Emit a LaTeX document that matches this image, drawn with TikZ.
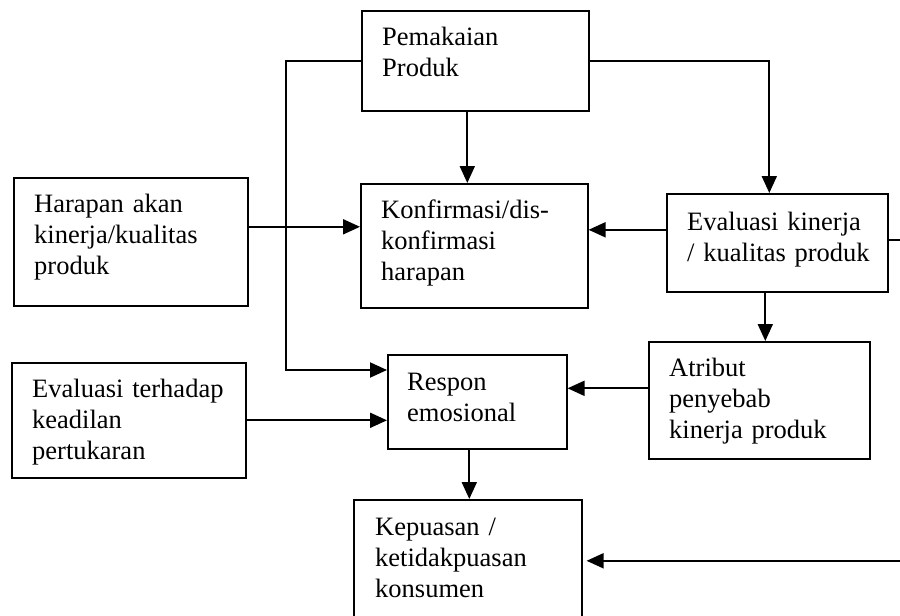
\documentclass[tikz,border=0pt]{standalone}
\usepackage{fontspec}
\setmainfont{Liberation Serif}
\usetikzlibrary{arrows.meta,positioning}

\tikzset{
  box/.style={draw, line width=1.6pt, anchor=north west, inner sep=0pt},
  txt/.style={anchor=base west, inner sep=0pt, text width=205pt, align=left,
    font=\fontsize{26.5pt}{31pt}\selectfont},
  arr/.style={line width=2pt, -{Triangle[length=17pt,width=15pt]}},
  link/.style={line width=2pt}
}

\begin{document}
\begin{tikzpicture}[x=1pt, y=-1pt]
  \useasboundingbox (0,0) rectangle (900,616);
  \clip (0,0) rectangle (900,616);
  \coordinate (tepi) at (900,0);

  % Kotak
  \node[box, minimum width=227, minimum height=100] (pemakaian) at (361,10) {};
  \node[box, minimum width=234, minimum height=128] (harapan) at (13,177) {};
  \node[box, minimum width=227, minimum height=124] (konfirmasi) at (360,183) {};
  \node[box, minimum width=221, minimum height=98] (evaluasi) at (666,193) {};
  \node[box, minimum width=221, minimum height=117] (atribut) at (648,341) {};
  \node[box, minimum width=179, minimum height=94] (respon) at (387,354) {};
  \node[box, minimum width=234, minimum height=115] (keadilan) at (11,362) {};
  \node[box, minimum width=228, minimum height=140] (kepuasan) at (353,499) {};

  % Teks
  \node[txt] (pemakaian-t) at ([shift={(21,35)}]pemakaian.north west) {Pemakaian\\Produk};
  \node[txt] (harapan-t) at ([shift={(21,35)}]harapan.north west) {Harapan akan\\kinerja/kualitas\\produk};
  \node[txt] (konfirmasi-t) at ([shift={(21,35)}]konfirmasi.north west) {Konfirmasi/dis-\\konfirmasi\\harapan};
  \node[txt] (evaluasi-t) at ([shift={(21,37)}]evaluasi.north west) {Evaluasi kinerja\\/ kualitas produk};
  \node[txt] (atribut-t) at ([shift={(21,35)}]atribut.north west) {Atribut\\penyebab\\kinerja produk};
  \node[txt] (respon-t) at ([shift={(20,36)}]respon.north west) {Respon\\emosional};
  \node[txt] (keadilan-t) at ([shift={(21,35)}]keadilan.north west) {Evaluasi terhadap\\keadilan\\pertukaran};
  \node[txt] (kepuasan-t) at ([shift={(22,36)}]kepuasan.north west) {Kepuasan /\\ketidakpuasan\\konsumen};

  % Panah
  \draw[arr] (pemakaian.west) -- ++(-75,0) |- ([yshift=-16pt]respon.north west);
  \draw[arr] ([yshift=15pt]harapan.east) coordinate (h1) -- (h1 -| konfirmasi.west);
  \draw[arr] ([xshift=-8pt]pemakaian.south) coordinate (p1) -- (p1 |- konfirmasi.north);
  \draw[arr] (pemakaian.east) -| ([xshift=-8pt]evaluasi.north);
  \draw[arr] ([yshift=13pt]evaluasi.west) coordinate (e1) -- (e1 -| konfirmasi.east);
  \draw[link] ([yshift=3pt]evaluasi.east) coordinate (e2) -- (e2 -| tepi);
  \draw[arr] ([xshift=-12pt]evaluasi.south) coordinate (e3) -- (e3 |- atribut.north);
  \draw[arr] ([yshift=12pt]atribut.west) coordinate (a1) -- (a1 -| respon.east);
  \draw[arr] (keadilan.east) -- (keadilan.east -| respon.west);
  \draw[arr] ([xshift=-8pt]respon.south) coordinate (r1) -- (r1 |- kepuasan.north);
  \path ([shift={(4,-9)}]kepuasan.east) coordinate (k1);
  \draw[arr] (k1 -| tepi) -- (k1);
\end{tikzpicture}
\end{document}
